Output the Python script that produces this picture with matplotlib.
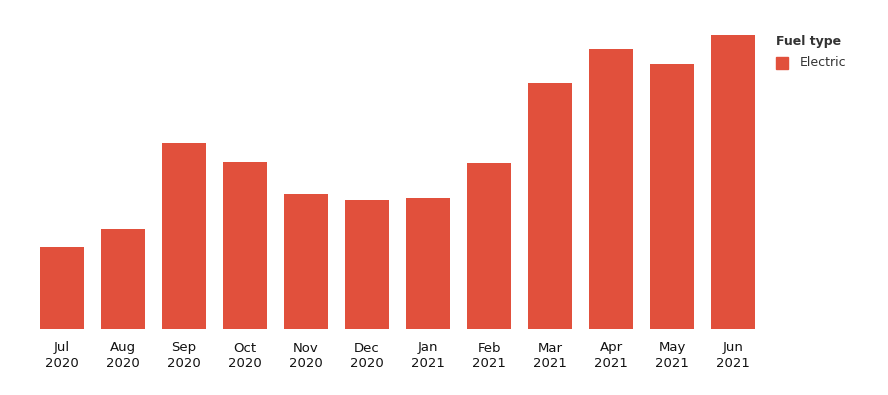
import matplotlib
matplotlib.use("Agg")
import matplotlib.pyplot as plt
from matplotlib.patches import Patch

months = ["Jul\n2020", "Aug\n2020", "Sep\n2020", "Oct\n2020", "Nov\n2020", "Dec\n2020",
          "Jan\n2021", "Feb\n2021", "Mar\n2021", "Apr\n2021", "May\n2021", "Jun\n2021"]
electric = [82, 100, 186, 167, 135, 129, 131, 166, 246, 280, 265, 294]

color = "#E1503C"

fig = plt.figure(figsize=(8.88, 3.95), dpi=100)
ax = fig.add_axes([31.5/888, 1-329/395, (763.5-31.5)/888, (329-35)/395])
x = list(range(len(months)))
ax.bar(x, electric, width=0.72, color=color)
ax.set_xlim(-0.5, len(months)-0.5)
ax.set_ylim(0, max(electric))
ax.set_xticks(x)
ax.set_xticklabels(months, fontsize=9.5, color="#111111", linespacing=1.25)
ax.tick_params(axis="x", length=0, pad=9)
ax.set_yticks([])
for s in ax.spines.values():
    s.set_visible(False)

fig.text(776/888, 1-42/395, "Fuel type", fontsize=9, fontweight="bold", color="#333333",
         va="center", ha="left")
fig.patches.append(plt.Rectangle((776/888, 1-69/395), 12/888, 12/395, color=color,
                                 transform=fig.transFigure, figure=fig))
fig.text(800/888, 1-63/395, "Electric", fontsize=9, color="#333333", va="center", ha="left")

fig.savefig("out.png", dpi=100)
